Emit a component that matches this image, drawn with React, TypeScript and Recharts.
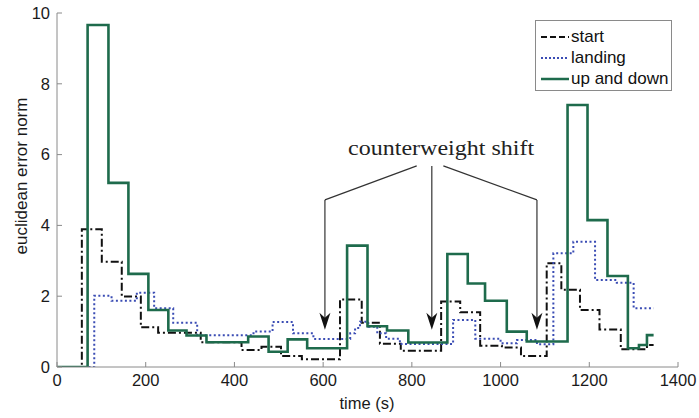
import React from 'react';
import { LineChart, Line, XAxis, YAxis, ReferenceLine, ReferenceDot, Legend } from 'recharts';

const xTicks = [0, 200, 400, 600, 800, 1000, 1200, 1400];
const yTicks = [0, 2, 4, 6, 8, 10];

// start (dash-dot black)
const startTimes = [0, 56, 101, 146, 189, 228, 324, 416, 461, 505, 552, 638, 687, 728, 775, 866, 909, 954, 1003, 1046, 1104, 1137, 1179, 1223, 1271, 1330, 1345];
const startValues = [0, 3.89, 2.97, 1.99, 1.12, 0.97, 0.7, 0.48, 0.57, 0.31, 0.22, 1.91, 1.25, 0.66, 0.46, 1.85, 1.55, 0.6, 0.55, 0.31, 2.93, 2.18, 1.61, 1.06, 0.5, 0.62, 0.62];

// landing (dotted blue)
const landingTimes = [0, 84, 123, 180, 219, 262, 316, 443, 486, 532, 578, 661, 672, 683, 702, 722, 742, 773, 893, 943, 1000, 1037, 1082, 1119, 1164, 1213, 1262, 1300, 1345];
const landingValues = [0, 2.01, 1.87, 2.1, 1.66, 1.25, 0.9, 1.0, 1.27, 0.95, 0.79, 0.95, 1.1, 1.28, 1.14, 0.95, 0.8, 0.65, 1.33, 0.8, 0.67, 0.76, 0.64, 3.21, 3.54, 2.46, 2.38, 1.66, 1.66];

// up and down (solid green)
const upDownTimes = [0, 69, 116, 161, 206, 251, 292, 337, 431, 477, 520, 564, 654, 700, 744, 792, 880, 926, 965, 1014, 1059, 1151, 1196, 1241, 1287, 1312, 1330, 1345];
const upDownValues = [0, 9.66, 5.2, 2.63, 1.61, 1.03, 0.89, 0.7, 0.86, 0.43, 0.78, 0.53, 3.43, 1.15, 1.03, 0.69, 3.19, 2.36, 1.87, 1.0, 0.72, 7.4, 4.15, 2.57, 0.53, 0.62, 0.9, 0.9];

// counterweight shift annotation
const shiftTimes = [604, 845, 1082];
const shiftStartTimes = [811, 845, 871];
const shiftTipValue = 1.05;
const shiftCornerValue = 4.72;
const shiftTopValue = 5.68;
const shiftLabelTime = 866;
const shiftLabelValue = 5.99;

const toSteps = (ts: number[], vs: number[]) => ts.map((t, i) => ({ t, v: vs[i] }));

const startData = toSteps(startTimes, startValues);
const landingData = toSteps(landingTimes, landingValues);
const upDownData = toSteps(upDownTimes, upDownValues);

const COLORS = { start: '#111111', landing: '#3a4cb4', upDown: '#1e6b4c', frame: '#8a8a8a', arrow: '#333333' };
const sans = '"Liberation Sans", Arial, Helvetica, sans-serif';

const legendItems = [
  { name: 'start', color: COLORS.start, dash: '6 3', width: 2 },
  { name: 'landing', color: COLORS.landing, dash: '2 2', width: 2 },
  { name: 'up and down', color: COLORS.upDown, dash: undefined, width: 2.5 },
];

const renderLegend = () => (
  <div style={{ border: `1px solid ${COLORS.frame}`, background: '#fff', width: 135, height: 64, paddingTop: 5, boxSizing: 'content-box', whiteSpace: 'nowrap', overflow: 'visible' }}>
    {legendItems.map((item) => (
      <div key={item.name} style={{ height: 21, display: 'flex', alignItems: 'center', whiteSpace: 'nowrap' }}>
        <svg width={30} height={10} style={{ marginLeft: 4, flexShrink: 0 }}>
          <line x1={1} y1={5} x2={29} y2={5} stroke={item.color} strokeWidth={item.width} strokeDasharray={item.dash} />
        </svg>
        <span style={{ fontFamily: sans, fontSize: 17, color: '#111', lineHeight: '21px', marginLeft: 1, whiteSpace: 'nowrap' }}>{item.name}</span>
      </div>
    ))}
  </div>
);

const ArrowHead = (props: any) => {
  const { cx, cy } = props;
  return <path d={`M${cx},${cy} L${cx - 5.5},${cy - 17} L${cx},${cy - 12} L${cx + 5.5},${cy - 17} Z`} fill="#111" />;
};

const ShiftLabel = (props: any) => {
  const { cx, cy } = props;
  return (
    <text x={cx} y={cy} textAnchor="middle" fontFamily='"Liberation Serif", "DejaVu Serif", serif' fontSize={22} fill="#222" textLength={186} lengthAdjust="spacingAndGlyphs">
      counterweight shift
    </text>
  );
};

const tickStyle = { fontFamily: sans, fontSize: 16.5, fill: '#1a1a1a' };

export default function App() {
  return (
    <div style={{ position: 'absolute', left: 0, top: 0, width: 699, height: 418, background: '#fff' }}>
      <LineChart width={699} height={418} margin={{ top: 13, right: 21, bottom: 0, left: 0 }}>
        <XAxis
          type="number" dataKey="t" domain={[0, 1400]} ticks={xTicks} allowDataOverflow
          height={51} tickSize={-5} tickMargin={12} tick={tickStyle}
          axisLine={{ stroke: COLORS.frame }} tickLine={{ stroke: COLORS.frame }}
          label={{ content: () => <text x={367} y={409} textAnchor="middle" fontFamily={sans} fontSize={16.5} fill="#1a1a1a">time (s)</text> }}
        />
        <XAxis
          xAxisId="top" orientation="top" type="number" domain={[0, 1400]} ticks={xTicks} allowDataOverflow
          height={0} tickSize={-5} tick={false}
          axisLine={{ stroke: COLORS.frame }} tickLine={{ stroke: COLORS.frame }}
        />
        <YAxis
          type="number" domain={[0, 10]} ticks={yTicks} allowDataOverflow
          width={57} tickSize={-5} tickMargin={12} tick={tickStyle}
          axisLine={{ stroke: COLORS.frame }} tickLine={{ stroke: COLORS.frame }}
          label={{ content: () => <text x={0} y={0} transform="translate(27,176) rotate(-90)" textAnchor="middle" fontFamily={sans} fontSize={17} fill="#1a1a1a">euclidean error norm</text> }}
        />
        <YAxis
          yAxisId="right" orientation="right" type="number" domain={[0, 10]} ticks={yTicks} allowDataOverflow
          width={0} tickSize={-5} tick={false}
          axisLine={{ stroke: COLORS.frame }} tickLine={{ stroke: COLORS.frame }}
        />

        <Line data={startData} dataKey="v" name="start" type="stepAfter" stroke={COLORS.start} strokeWidth={2} strokeDasharray="8 3 2 3" dot={false} isAnimationActive={false} />
        <Line data={landingData} dataKey="v" name="landing" type="stepAfter" stroke={COLORS.landing} strokeWidth={2} strokeDasharray="2 2.5" dot={false} isAnimationActive={false} />
        <Line data={upDownData} dataKey="v" name="up and down" type="stepAfter" stroke={COLORS.upDown} strokeWidth={2.6} dot={false} isAnimationActive={false} />

        {shiftTimes.map((t, i) => (
          <ReferenceLine
            key={`a${i}`}
            segment={[{ x: shiftStartTimes[i], y: shiftTopValue }, { x: t, y: t === shiftStartTimes[i] ? shiftTopValue : shiftCornerValue }]}
            stroke={COLORS.arrow} strokeWidth={1.2}
          />
        ))}
        {shiftTimes.map((t, i) => (
          <ReferenceLine
            key={`b${i}`}
            segment={[{ x: t, y: t === shiftStartTimes[i] ? shiftTopValue : shiftCornerValue }, { x: t, y: shiftTipValue + 0.3 }]}
            stroke={COLORS.arrow} strokeWidth={1.2}
          />
        ))}
        {shiftTimes.map((t, i) => (
          <ReferenceDot key={`h${i}`} x={t} y={shiftTipValue} shape={ArrowHead} />
        ))}
        <ReferenceDot x={shiftLabelTime} y={shiftLabelValue} shape={ShiftLabel} />

        <Legend
          layout="horizontal" verticalAlign="middle" align="center"
          wrapperStyle={{ position: 'absolute', left: 535, top: 20, width: 137, height: 71 }}
          content={renderLegend}
        />
      </LineChart>
    </div>
  );
}
